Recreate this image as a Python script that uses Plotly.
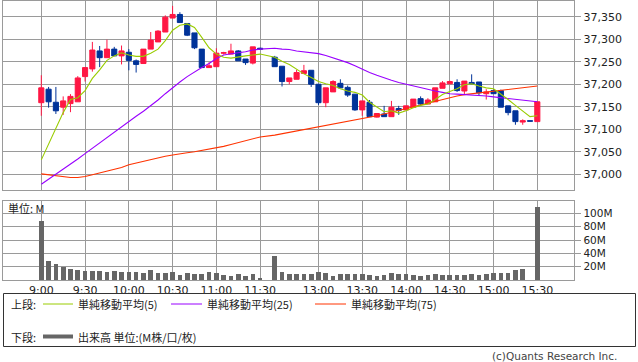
import plotly.graph_objects as go

# ---------------- data ----------------
times = ["9:00","9:05","9:10","9:15","9:20","9:25","9:30","9:35","9:40","9:45","9:50","9:55",
         "10:00","10:05","10:10","10:15","10:20","10:25","10:30","10:35","10:40","10:45","10:50","10:55",
         "11:00","11:05","11:10","11:15","11:20","11:25","11:30",
         "12:30","12:35","12:40","12:45","12:50","12:55",
         "13:00","13:05","13:10","13:15","13:20","13:25","13:30","13:35","13:40","13:45","13:50","13:55",
         "14:00","14:05","14:10","14:15","14:20","14:25","14:30","14:35","14:40","14:45","14:50","14:55",
         "15:00","15:05","15:10","15:15","15:20","15:25","15:30"]

opens = [37159,37189,37160,37149,37157,37161,37217,37234,37274,37259,37278,37263,
         37271,37252,37246,37278,37294,37316,37347,37355,37335,37314,37278,37237,
         37239,37269,37267,37274,37256,37247,37280,
         37260,37240,37206,37211,37224,37231,
         37200,37159,37183,37202,37193,37178,37143,37160,37127,37134,37128,37146,
         37143,37149,37168,37156,37161,37191,37201,37204,37185,37204,37205,37179,
         37186,37186,37152,37141,37116,37119,37117]
highs = [37220,37194,37194,37173,37178,37218,37237,37294,37285,37299,37283,37286,
         37278,37255,37278,37316,37320,37353,37374,37360,37335,37314,37278,37249,
         37280,37272,37290,37276,37256,37283,37281,
         37263,37240,37214,37232,37243,37231,
         37200,37192,37209,37211,37197,37178,37163,37165,37136,37152,37163,37152,
         37152,37167,37173,37169,37192,37207,37208,37211,37207,37222,37205,37189,
         37188,37188,37152,37141,37122,37119,37161]
lows = [37130,37148,37134,37132,37138,37161,37206,37228,37238,37259,37263,37244,
        37231,37226,37246,37278,37294,37316,37347,37337,37307,37278,37236,37237,
        37239,37266,37267,37252,37243,37244,37277,
        37239,37195,37200,37211,37224,37194,
        37154,37149,37183,37192,37172,37141,37130,37128,37126,37128,37128,37132,
        37142,37149,37154,37156,37161,37191,37200,37183,37176,37200,37174,37166,
        37179,37149,37131,37110,37110,37118,37117]
closes = [37192,37161,37141,37163,37173,37214,37237,37276,37259,37278,37263,37274,
          37253,37244,37278,37298,37318,37349,37355,37337,37309,37281,37237,37241,
          37269,37270,37274,37252,37248,37283,37278,
          37239,37206,37214,37226,37230,37200,
          37159,37192,37206,37192,37176,37143,37163,37128,37135,37128,37149,37142,
          37152,37167,37156,37165,37192,37203,37206,37186,37207,37201,37181,37183,
          37179,37149,37137,37117,37119,37118,37161]

ma5 = [37032,37068,37103,37137,37166,37170,37186,37213,37232,37253,37263,37270,
       37265,37262,37262,37269,37278,37297,37320,37331,37334,37326,37304,37281,
       37267,37260,37258,37261,37263,37265,37267,
       37260,37251,37244,37233,37223,37215,
       37206,37201,37197,37190,37185,37182,37176,37160,37149,37139,37141,37136,
       37141,37148,37153,37156,37166,37177,37184,37190,37199,37201,37196,37192,
       37190,37179,37166,37153,37140,37128,37130]
ma25 = [36978,36989,37000,37011,37022,37034,37046,37058,37069,37081,37093,37106,
        37117,37129,37140,37152,37165,37179,37193,37205,37217,37228,37237,37246,
        37257,37265,37268,37270,37272,37276,37278,
        37280,37278,37277,37274,37272,37270,
        37268,37264,37259,37254,37248,37241,37233,37226,37220,37214,37209,37204,
        37200,37196,37192,37188,37185,37182,37179,37178,37177,37177,37175,37174,
        37172,37170,37168,37166,37164,37162,37161]
ma75 = [37001,36999,36997,36995,36993,36993,36995,36999,37003,37007,37011,37015,
        37021,37025,37029,37033,37036,37040,37043,37046,37048,37050,37053,37055,
        37058,37062,37066,37070,37075,37079,37083,
        37087,37090,37093,37096,37099,37102,
        37105,37108,37111,37114,37117,37120,37124,37127,37130,37134,37138,37142,
        37146,37150,37154,37158,37162,37167,37171,37174,37177,37179,37181,37183,
        37185,37187,37189,37191,37193,37195,37196]

volume_m = [88.5,28.5,24,19.5,16.5,15,13.5,13.5,13.5,12,13.5,12,
            12,12,10.5,15,10.5,10.5,12,7.5,10.5,9,9,12,
            10.5,7.5,6,9,6,9,3,
            36,12,9,9,9,9,
            12,10.5,6,9,9,9,9,7.5,6,7.5,10.5,9,
            9,7.5,6,7.5,9,7.5,7.5,7.5,7.5,9,7.5,9,
            10.5,10.5,10.5,15,16.5,0.3,109]

tick_times = ["9:00","9:30","10:00","10:30","11:00","11:30",
              "13:00","13:30","14:00","14:30","15:00","15:30"]
price_ticks = [37000,37050,37100,37150,37200,37250,37300,37350]
vol_ticks = [20,40,60,80,100]
vol_tick_text = ["20M","40M","60M","80M","100M"]


def slot(t):
    h, m = map(int, t.split(":"))
    mins = h * 60 + m
    if mins <= 690:
        return (mins - 540) / 5
    return (mins - 750) / 5 + 32


xs = [slot(t) for t in times]
tick_x = [slot(t) for t in tick_times]

# ---------------- style ----------------
W, H = 638, 362
RED = "#ff1744"
BLUE = "#003399"
GRID = "#9a9a9a"
C5 = "#99cc00"
C25 = "#9900ff"
C75 = "#ff3300"
VOLC = "#666666"
FONT = "DejaVu Sans, Noto Sans CJK JP, sans-serif"
JFONT = "Noto Sans CJK JP, sans-serif"

def px_x(p):
    return p / W

def px_y(p):
    return (H - p) / H

XDOM = [px_x(3.3), px_x(574.3)]
XR = [-5.21, 73.07]

fig = go.Figure()
fig.add_trace(go.Candlestick(
    x=xs, open=opens, high=highs, low=lows, close=closes,
    increasing=dict(line=dict(color=RED, width=1), fillcolor=RED),
    decreasing=dict(line=dict(color=BLUE, width=1), fillcolor=BLUE),
    whiskerwidth=0, showlegend=False, hoverinfo="skip",
    xaxis="x", yaxis="y"))
for vals, col in ((ma75, C75), (ma25, C25), (ma5, C5)):
    fig.add_trace(go.Scatter(x=xs, y=vals, mode="lines",
                             line=dict(color=col, width=1.1),
                             showlegend=False, hoverinfo="skip",
                             xaxis="x", yaxis="y"))
fig.add_trace(go.Bar(x=xs, y=volume_m, width=0.64,
                     marker=dict(color=VOLC, line=dict(width=0)),
                     showlegend=False, hoverinfo="skip",
                     xaxis="x2", yaxis="y2"))

axis_common = dict(showgrid=True, gridcolor=GRID, gridwidth=1, zeroline=False,
                   showline=True, mirror=True, linecolor=GRID, linewidth=1)

fig.update_layout(
    width=W, height=H, autosize=False,
    margin=dict(l=0, r=0, t=0, b=0, pad=0),
    paper_bgcolor="white", plot_bgcolor="white",
    font=dict(family=FONT, size=11, color="#222222"),
    boxgap=0.3, boxgroupgap=0,
    bargap=0,
    showlegend=False,
    xaxis=dict(domain=XDOM, range=XR, anchor="y", tickvals=tick_x,
               showticklabels=False, ticks="", rangeslider=dict(visible=False),
               **axis_common),
    yaxis=dict(domain=[px_y(190), px_y(0.5)], range=[36965.1, 37386], anchor="x",
               side="right", tickvals=price_ticks, tickformat=",d",
               ticks="outside", ticklen=6, tickcolor=GRID,
               tickfont=dict(size=11, family=FONT, color="#222222"),
               **axis_common),
    xaxis2=dict(domain=XDOM, range=XR, anchor="y2", tickvals=tick_x,
                ticktext=tick_times, ticks="", ticklen=0,
                tickfont=dict(size=11, family=FONT, color="#222222"),
                **axis_common),
    yaxis2=dict(domain=[px_y(280), px_y(201)], range=[0, 118.5], anchor="x2",
                side="right", tickvals=vol_ticks, ticktext=vol_tick_text,
                ticks="outside", ticklen=6, tickcolor=GRID,
                tickfont=dict(size=10.5, family=FONT, color="#222222"),
                **axis_common),
)

annotations = []
shapes = []

def text(x, y, s, size=11, anchor="left", color="#222222", family=JFONT):
    annotations.append(dict(x=px_x(x), y=px_y(y), xref="paper", yref="paper",
                            text=s, showarrow=False, xanchor=anchor, yanchor="middle",
                            borderpad=0,
                            font=dict(size=size, color=color, family=family)))

def hline(x0, x1, y, color, width):
    shapes.append(dict(type="line", xref="paper", yref="paper",
                       x0=px_x(x0), x1=px_x(x1), y0=px_y(y), y1=px_y(y),
                       line=dict(color=color, width=width)))

text(7, 208.5, "単位: M", size=11)

# legend box
shapes.append(dict(type="rect", xref="paper", yref="paper",
                   x0=px_x(3.5), x1=px_x(635.5), y0=px_y(346.5), y1=px_y(293.5),
                   line=dict(color="#333333", width=1), fillcolor="rgba(0,0,0,0)"))
row1, row2 = 304, 336.5
text(10, row1, "上段:")
hline(43, 73, row1, C5, 1)
text(77, row1, "単純移動平均(5)")
hline(171, 202, row1, C25, 1)
text(206, row1, "単純移動平均(25)")
hline(315, 346, row1, C75, 1)
text(350, row1, "単純移動平均(75)")
text(10, row2, "下段:")
hline(43, 73, row2, VOLC, 4)
text(77, row2, "出来高 単位:(M株/口/枚)")

text(618, 356, "(c)Quants Research Inc.", size=10.5, anchor="right", color="#444444",
     family=FONT)

fig.update_layout(annotations=annotations, shapes=shapes)
fig.write_html("out.html",
               config={"displayModeBar": False, "staticPlot": True},
               post_script="document.body.style.margin='0';document.body.style.overflow='hidden';")
